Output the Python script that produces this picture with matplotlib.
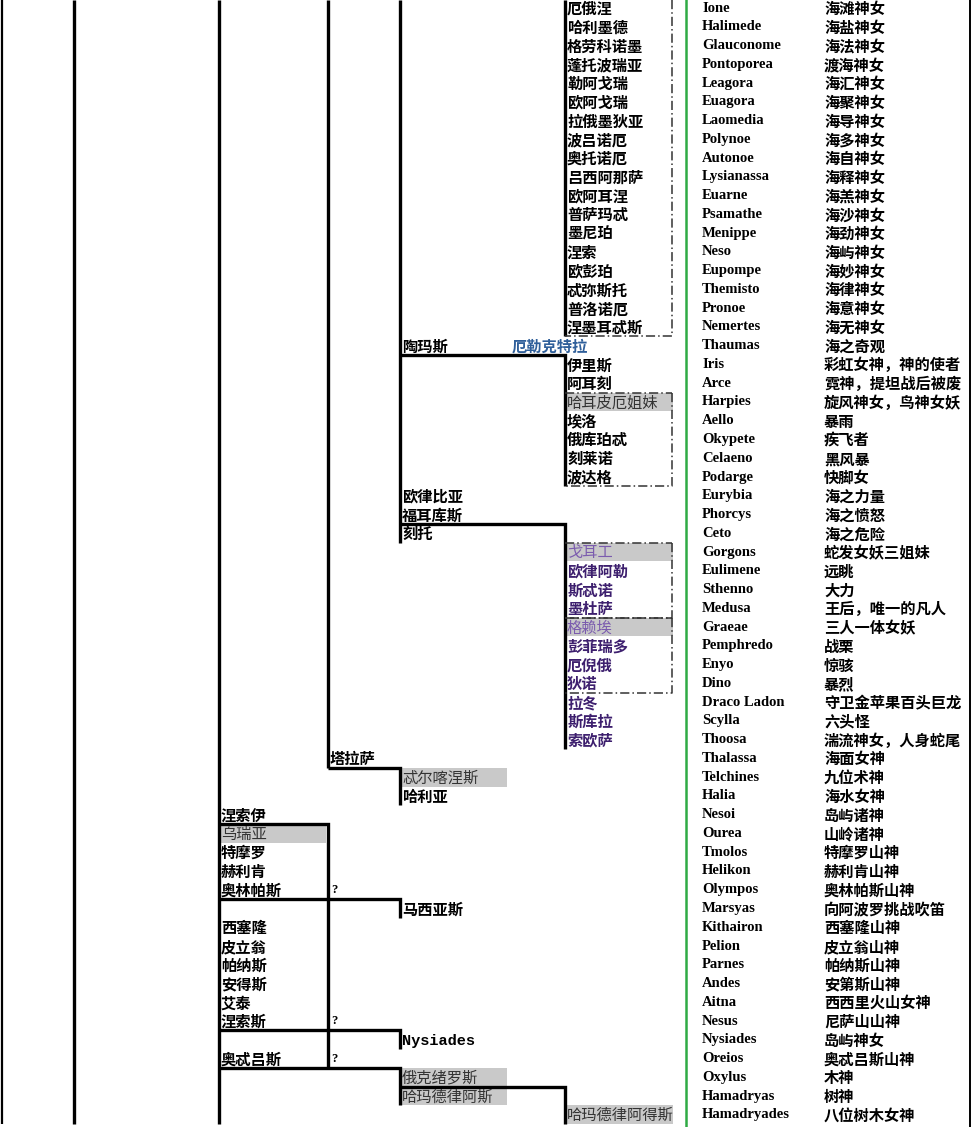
import matplotlib
matplotlib.use("Agg")
import matplotlib.pyplot as plt
from matplotlib.patches import Rectangle

# ---- data ----
en_names = ["Ione", "Halimede", "Glauconome", "Pontoporea", "Leagora", "Euagora",
            "Laomedia", "Polynoe", "Autonoe", "Lysianassa", "Euarne", "Psamathe",
            "Menippe", "Neso", "Eupompe", "Themisto", "Pronoe", "Nemertes",
            "Thaumas", "Iris", "Arce", "Harpies", "Aello", "Okypete", "Celaeno",
            "Podarge", "Eurybia", "Phorcys", "Ceto", "Gorgons", "Eulimene",
            "Sthenno", "Medusa", "Graeae", "Pemphredo", "Enyo", "Dino",
            "Draco Ladon", "Scylla", "Thoosa", "Thalassa", "Telchines", "Halia",
            "Nesoi", "Ourea", "Tmolos", "Helikon", "Olympos", "Marsyas",
            "Kithairon", "Pelion", "Parnes", "Andes", "Aitna", "Nesus",
            "Nysiades", "Oreios", "Oxylus", "Hamadryas", "Hamadryades"]

descs = ["海滩神女", "海盐神女", "海法神女", "渡海神女", "海汇神女", "海聚神女",
         "海导神女", "海多神女", "海自神女", "海释神女", "海羔神女", "海沙神女",
         "海劲神女", "海屿神女", "海妙神女", "海律神女", "海意神女", "海无神女",
         "海之奇观", "彩虹女神，神的使者", "霓神，提坦战后被废", "旋风神女，鸟神女妖",
         "暴雨", "疾飞者", "黑风暴", "快脚女", "海之力量", "海之愤怒", "海之危险",
         "蛇发女妖三姐妹", "远眺", "大力", "王后，唯一的凡人", "三人一体女妖",
         "战栗", "惊骇", "暴烈", "守卫金苹果百头巨龙", "六头怪", "湍流神女，人身蛇尾",
         "海面女神", "九位术神", "海水女神", "岛屿诸神", "山岭诸神", "特摩罗山神",
         "赫利肯山神", "奥林帕斯山神", "向阿波罗挑战吹笛", "西塞隆山神", "皮立翁山神",
         "帕纳斯山神", "安第斯山神", "西西里火山女神", "尼萨山山神", "岛屿神女",
         "奥忒吕斯山神", "木神", "树神", "八位树木女神"]

cn_names = ["厄俄涅", "哈利墨德", "格劳科诺墨", "蓬托波瑞亚", "勒阿戈瑞", "欧阿戈瑞",
            "拉俄墨狄亚", "波吕诺厄", "奥托诺厄", "吕西阿那萨", "欧阿耳涅", "普萨玛忒",
            "墨尼珀", "涅索", "欧彭珀", "忒弥斯托", "普洛诺厄", "涅墨耳忒斯",
            "陶玛斯", "伊里斯", "阿耳刻", "哈耳皮厄姐妹", "埃洛", "俄库珀忒", "刻莱诺",
            "波达格", "欧律比亚", "福耳库斯", "刻托", "戈耳工", "欧律阿勒", "斯忒诺",
            "墨杜萨", "格赖埃", "彭菲瑞多", "厄倪俄", "狄诺", "拉冬", "斯库拉", "索欧萨",
            "塔拉萨", "忒尔喀涅斯", "哈利亚", "涅索伊", "乌瑞亚", "特摩罗", "赫利肯",
            "奥林帕斯", "马西亚斯", "西塞隆", "皮立翁", "帕纳斯", "安得斯", "艾泰",
            "涅索斯", "Nysiades", "奥忒吕斯", "俄克绪罗斯", "哈玛德律阿斯", "哈玛德律阿得斯"]

# generation level of each Chinese name (index into col_x)
cn_level = [5] * 18 + [4] + [5] * 7 + [4] * 3 + [5] * 11 + [3] + [4] * 2 + \
           [2] * 5 + [4] + [2] * 6 + [4] + [2] + [4] * 2 + [5]

extra_labels = [(19, "厄勒克特拉"), (48, "?"), (55, "?"), (57, "?")]
shaded_rows = [22, 30, 34, 42, 45, 58, 59, 60]
gorgon_rows = list(range(30, 41))

# tree: (row whose bottom carries the branch, from level, to level, last row)
branches = [(19, 4, 5, 26), (28, 4, 5, 40), (41, 3, 4, 43), (44, 2, 3, 57),
            (48, 2, 4, 49), (55, 2, 4, 56), (57, 2, 4, 59), (58, 4, 5, 60)]
trunks = [(0, 60), (1, 60), (2, 60), (3, 41), (4, 29), (5, 18)]  # (level, last row)
group_boxes = [(0, 18), (21, 26), (29, 33), (33, 37)]  # (row above top, last row)

# ---- layout ----
col_x = [2, 74, 219, 328, 400, 565]
box_right = 672
green_x = 686
en_x = 702
desc_x = 824
right_x = 970

fig = plt.figure(figsize=(9.72, 11.27), dpi=100)
ax = fig.add_axes([0, 0, 1, 1])
ax.set_xlim(0, 972)
row_h = 18.76
y_top = 1 - 8 / row_h
y_bot = 1 + (1127 - 8) / row_h
ax.set_ylim(y_bot, y_top)
ax.axis("off")

cn = ["Noto Sans CJK SC", "DejaVu Sans"]
lw = 2.4

# shading
for r in shaded_rows:
    lvl = cn_level[r - 1]
    x0 = col_x[lvl]
    w = 107 if lvl != 5 else 108
    ax.add_patch(Rectangle((x0, r - 0.5), w, 1, facecolor="#c9c9c9",
                           edgecolor="none", zorder=0))

# trunks
for lvl, last in trunks:
    lw_ = 1.6 if lvl == 0 else lw
    ax.plot([col_x[lvl], col_x[lvl]], [y_top, last + 0.5], color="black",
            lw=lw_, solid_capstyle="butt")
ax.plot([green_x, green_x], [y_top, y_bot], color="#2faa44", lw=1.8)
ax.plot([right_x, right_x], [y_top, y_bot], color="black", lw=1.4)

# branches
for r, a, b, last in branches:
    yb = r + 0.5
    ax.plot([col_x[a], col_x[b], col_x[b]], [yb, yb, min(last + 0.5, y_bot)],
            color="black", lw=lw, solid_joinstyle="miter", solid_capstyle="butt")

# dashed group boxes
for top, last in group_boxes:
    yt = top + 0.5 if top > 0 else y_top
    yb = last + 0.5
    if top > 0:
        ax.plot([col_x[5], box_right], [yt, yt], color="#333333", lw=1.1,
                ls=(0, (6, 2, 1, 2)))
    ax.plot([box_right, box_right, col_x[5]], [yt, yb, yb], color="#333333",
            lw=1.1, ls=(0, (6, 2, 1, 2)))

# Chinese names
for i, (name, lvl) in enumerate(zip(cn_names, cn_level)):
    r = i + 1
    color = "black"
    weight = "bold"
    if r in gorgon_rows:
        color = "#3d1f6e"
    if r in shaded_rows:
        weight = "normal"
        color = "#7b5cae" if r in gorgon_rows else "#333333"
    family = cn
    if name == "Nysiades":
        family = ["Liberation Mono"]
    ax.text(col_x[lvl] + 2, r + 0.05, name, fontsize=11, fontweight=weight,
            color=color, family=family, va="center", ha="left")

for r, label in extra_labels:
    if label == "?":
        ax.text(col_x[3] + 3, r, label, fontsize=9, fontweight="bold",
                family=["Liberation Serif"], va="center")
    else:
        ax.text(512, r + 0.05, label, fontsize=11, fontweight="bold",
                color="#2f5f9a", family=cn, va="center")

# English names and descriptions
for i, (en, d) in enumerate(zip(en_names, descs)):
    r = i + 1
    ax.text(en_x, r, en, fontsize=10.5, fontweight="bold",
            family=["Liberation Serif"], va="center", ha="left")
    ax.text(desc_x, r + 0.05, d, fontsize=11, fontweight="bold",
            family=cn, va="center", ha="left")

fig.savefig("out.png", dpi=100)
